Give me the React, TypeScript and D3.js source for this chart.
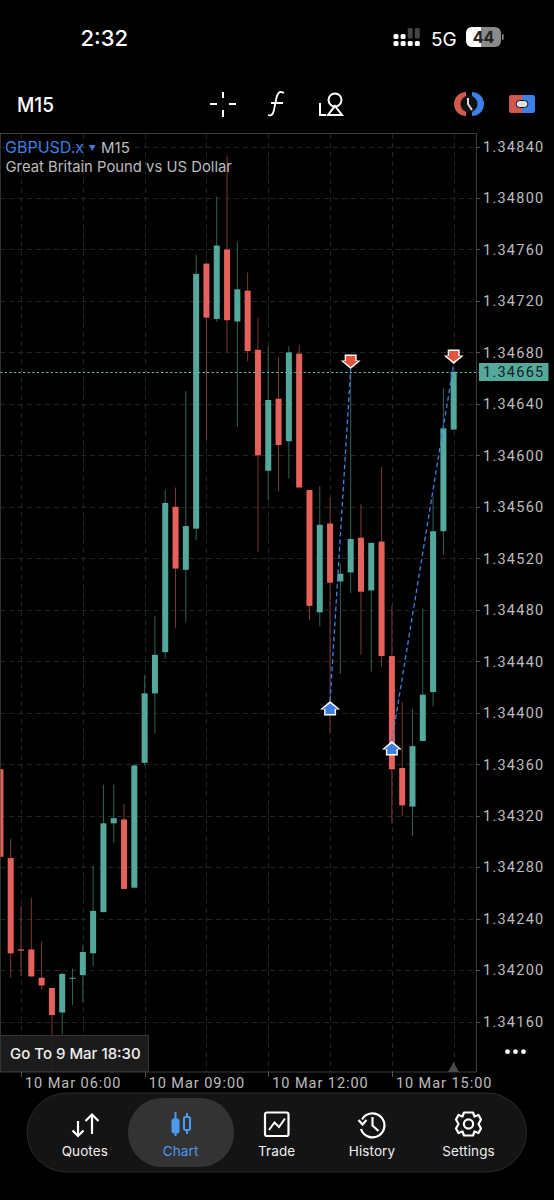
import React from "react";
import * as d3 from "d3";

// ---- data ----
const opens = [1.34356,1.34287,1.34216,1.34216,1.34194,1.34186,1.34167,1.34194,1.34196,1.34213,1.34245,1.34314,1.34317,1.34264,1.34361,1.34415,1.34447,1.34560,1.34511,1.34543,1.34749,1.34706,1.34760,1.34704,1.34728,1.34682,1.34588,1.34644,1.34611,1.34679,1.34573,1.34478,1.34547,1.34502,1.34509,1.34536,1.34495,1.34533,1.34444,1.34357,1.34327,1.34378,1.34416,1.34541,1.34620];
const highs = [1.34356,1.34302,1.34250,1.34256,1.34222,1.34186,1.34198,1.34201,1.34219,1.34281,1.34344,1.34344,1.34329,1.34360,1.34429,1.34475,1.34573,1.34575,1.34650,1.34756,1.34749,1.34801,1.34833,1.34766,1.34742,1.34707,1.34685,1.34676,1.34685,1.34686,1.34573,1.34576,1.34567,1.34516,1.34665,1.34562,1.34532,1.34591,1.34483,1.34408,1.34403,1.34481,1.34568,1.34652,1.34665];
const lows = [1.34288,1.34194,1.34195,1.34195,1.34185,1.34122,1.34150,1.34173,1.34175,1.34203,1.34245,1.34299,1.34263,1.34264,1.34359,1.34384,1.34442,1.34466,1.34470,1.34534,1.34612,1.34704,1.34680,1.34622,1.34673,1.34525,1.34565,1.34572,1.34582,1.34575,1.34472,1.34467,1.34384,1.34430,1.34493,1.34445,1.34432,1.34436,1.34314,1.34320,1.34304,1.34378,1.34405,1.34523,1.34620];
const closes = [1.34288,1.34213,1.34215,1.34195,1.34188,1.34165,1.34197,1.34194,1.34214,1.34246,1.34314,1.34318,1.34263,1.34359,1.34415,1.34445,1.34563,1.34512,1.34545,1.34741,1.34707,1.34763,1.34705,1.34729,1.34681,1.34600,1.34643,1.34608,1.34680,1.34575,1.34483,1.34546,1.34501,1.34508,1.34535,1.34494,1.34532,1.34444,1.34356,1.34328,1.34374,1.34414,1.34541,1.34621,1.34665];
const priceTicks = [1.3484,1.348,1.3476,1.3472,1.3468,1.3464,1.346,1.3456,1.3452,1.3448,1.3444,1.344,1.3436,1.3432,1.3428,1.3424,1.342,1.3416];
const verticalGrid = [2,8,14,20,26,32,38,44];
const timeTicks = [2,14,26,38];
const timeLabels = ["10 Mar 06:00","10 Mar 09:00","10 Mar 12:00","10 Mar 15:00"];
const lastPrice = 1.34665;
const tradeEntryIdx = [32,38];
const tradeEntryPx = [1.34409,1.34378];
const tradeExitIdx = [34,44];
const tradeExitPx = [1.34667,1.34671];
const tabs = ["Quotes","Chart","Trade","History","Settings"];

const W = 554, H = 1200;
const x = d3.scaleLinear().domain([0,44]).range([0.4,453.7]);
const y = d3.scaleLinear().domain([1.3484,1.3416]).range([146.5,1021.5]);
const TEAL = "#55a99c", RED = "#e5615a", TEAL_W = "#2f625b", RED_W = "#7d3a37", BLUE = "#3d80ec";
const GRID = "#242424", BORDER = "#3c3c3c";
const SANS = "Inter, Roboto, 'Liberation Sans', sans-serif";
const tabX = [84.8,180.6,276.7,372,468.5];

const clipId = "plot";

function UpArrow({cx,tip}:{cx:number,tip:number}) {
  const d = `M${cx},${tip} L${cx+10},${tip+8.5} L${cx+6},${tip+8.5} L${cx+6},${tip+14.5} L${cx-6},${tip+14.5} L${cx-6},${tip+8.5} L${cx-10},${tip+8.5} Z`;
  return <g>
    <path d={d} fill="#fff"/>
    <path d={`M${cx},${tip+2.2} L${cx+7.4},${tip+8} L${cx+4.6},${tip+8} L${cx+4.6},${tip+13} L${cx-4.6},${tip+13} L${cx-4.6},${tip+8} L${cx-7.4},${tip+8} Z`} fill={BLUE}/>
  </g>;
}
function DownArrow({cx,tip}:{cx:number,tip:number}) {
  const d = `M${cx},${tip} L${cx+10},${tip-8.5} L${cx+6},${tip-8.5} L${cx+6},${tip-14.5} L${cx-6},${tip-14.5} L${cx-6},${tip-8.5} L${cx-10},${tip-8.5} Z`;
  return <g>
    <path d={d} fill="#fff"/>
    <path d={`M${cx},${tip-2.2} L${cx+7.4},${tip-8} L${cx+4.6},${tip-8} L${cx+4.6},${tip-13} L${cx-4.6},${tip-13} L${cx-4.6},${tip-8} L${cx-7.4},${tip-8} Z`} fill="#e5533f"/>
  </g>;
}

export default function App() {
  return (
    <svg width={W} height={H} viewBox={`0 0 ${W} ${H}`}
      style={{position:"fixed",left:0,top:0,display:"block",background:"#000"}} fontFamily={SANS}>
      <rect width={W} height={H} fill="#000"/>
      <defs><clipPath id={clipId}><rect x={0} y={134} width={476} height={938}/></clipPath></defs>

      {/* status bar */}
      <text x={80.5} y={46} fill="#fff" fontSize={22} fontWeight={500}>2:32</text>
      {[0,1,2,3].map(c=>[0,1].map(r=>(
        <rect key={c+"-"+r} x={393.5+c*7.1} y={(r===0?(c>1?28:34):41)} width={5} height={(r===0&&c>1)?10.5:5} rx={1.5}
          fill={(r===0&&c>1)?"#444":"#fff"}/>
      )))}
      <text x={431} y={45.5} fill="#fff" fontSize={19}>5G</text>
      <rect x={466} y={27} width={35} height={20} rx={6} fill="#8a8a8a"/>
      <path d="M472,27 H481 V47 H472 a6,6 0 0 1 -6,-6 V33 a6,6 0 0 1 6,-6 Z" fill="#fff"/>
      <rect x={502} y={34} width={1.6} height={6} rx={0.8} fill="#8a8a8a"/>
      <text x={483.5} y={43} fill="#222" fontSize={16} fontWeight={700} textAnchor="middle">44</text>

      {/* toolbar */}
      <text x={17} y={111.5} fill="#fff" fontSize={20} fontWeight={500} textLength={37} lengthAdjust="spacingAndGlyphs">M15</text>
      <g stroke="#fff" strokeWidth={2} fill="none">
        <path d="M210,104 H217 M229,104 H236 M223,92 V98 M223,110 V117"/>
        <path d="M284,93 C279,90 277,94 276,100 L274,110 C273,115 271,116 268,115 M271,103 H283" strokeWidth={1.8}/>
        <circle cx={335} cy={100} r={6.5}/>
        <path d="M335,106 L342,115 H328 Z"/>
        <path d="M320,103 V115 H326"/>
      </g>
      <g>
        <path d="M466,92 A12,12 0 0 0 466,116 Z" fill="#d0594d"/>
        <path d="M472,92 A12,12 0 0 1 472,116 Z" fill="#3d80ec"/>
        <circle cx={469} cy={104} r={8.5} fill="#111"/>
        <path d="M468,98 V104 L472,110" stroke="#ddd" strokeWidth={2} fill="none"/>
      </g>
      <g>
        <path d="M511,95 H522 V113 H511 a2,2 0 0 1 -2,-2 V97 a2,2 0 0 1 2,-2 Z" fill="#d0594d"/>
        <path d="M522,95 H533 a2,2 0 0 1 2,2 V111 a2,2 0 0 1 -2,2 H522 Z" fill="#3d80ec"/>
        <rect x={516} y={100.5} width={12} height={7} rx={3.5} fill="#ddd" stroke="#111" strokeWidth={1}/>
      </g>

      {/* grid */}
      <g stroke={GRID} strokeWidth={1} strokeDasharray="5 4" fill="none">
        {priceTicks.map(t=><line key={t} x1={0} x2={476} y1={Math.round(y(t))+0.5} y2={Math.round(y(t))+0.5}/>)}
        {verticalGrid.map(i=><line key={i} x1={Math.round(x(i))+0.5} x2={Math.round(x(i))+0.5} y1={134} y2={1072}/>)}
      </g>
      <line x1={0.5} x2={0.5} y1={134} y2={1072} stroke="#232323"/>

      {/* candles */}
      <g clipPath={`url(#${clipId})`}>
        {opens.map((o,i)=>{
          const c = closes[i], up = c>=o, cx = x(i);
          const top = y(Math.max(o,c)), bot = y(Math.min(o,c));
          return <g key={i}>
            <line x1={cx} x2={cx} y1={y(highs[i])} y2={Math.min(y(lows[i]),1072)} stroke={up?TEAL_W:RED_W} strokeWidth={1}/>
            <rect x={cx-3} y={top} width={6} height={Math.max(bot-top,1)} fill={up?TEAL:RED}/>
          </g>;
        })}
      </g>

      {/* last price line */}
      <line x1={0} x2={479} y1={Math.round(y(lastPrice))+0.5} y2={Math.round(y(lastPrice))+0.5} stroke="#5fb8aa" strokeWidth={1.2} strokeDasharray="2.4 2.2"/>

      {/* trades */}
      {tradeEntryIdx.map((e,k)=>(
        <line key={k} x1={x(e)} y1={y(tradeEntryPx[k])} x2={x(tradeExitIdx[k])} y2={y(tradeExitPx[k])}
          stroke={BLUE} strokeWidth={1.3} strokeDasharray="4.5 3"/>
      ))}
      {tradeEntryIdx.map((e,k)=><UpArrow key={k} cx={x(e)} tip={y(tradeEntryPx[k])}/>)}
      {tradeExitIdx.map((e,k)=><DownArrow key={k} cx={x(e)} tip={y(tradeExitPx[k])}/>)}

      {/* frame */}
      <rect x={0} y={133.5} width={476.5} height={938.5} fill="none" stroke={BORDER}/>

      {/* y axis */}
      {priceTicks.map(t=>(
        <g key={t}>
          <line x1={476} x2={480} y1={Math.round(y(t))+0.5} y2={Math.round(y(t))+0.5} stroke="#555"/>
          <text x={483} y={y(t)+5.4} fill="#bdbdbd" fontSize={14.5} letterSpacing={1.25} fontFamily="Roboto, sans-serif">{t.toFixed(5)}</text>
        </g>
      ))}
      <rect x={479} y={363} width={69.5} height={18} fill={TEAL}/>
      <text x={483} y={y(lastPrice)+5.4} fill="#10231f" fontSize={14.5} letterSpacing={1.25} fontFamily="Roboto, sans-serif">{lastPrice.toFixed(5)}</text>

      {/* x axis */}
      {timeTicks.map((t,k)=>(
        <g key={t}>
          <line x1={Math.round(x(t))+0.5} x2={Math.round(x(t))+0.5} y1={1072} y2={1077} stroke="#555"/>
          <text x={x(t)+4} y={1088} fill="#bdbdbd" fontSize={14.5} letterSpacing={0.95} fontFamily="Roboto, sans-serif">{timeLabels[k]}</text>
        </g>
      ))}

      {/* titles */}
      <text x={5} y={152.5} fill="#3d7fe0" fontSize={16}>GBPUSD.x</text>
      <path d="M89,145 H95.5 L92.2,151 Z" fill="#3d7fe0"/>
      <text x={101} y={152.5} fill="#bcbcbc" fontSize={15}>M15</text>
      <text x={5.5} y={171.5} fill="#bcbcbc" fontSize={14.85}>Great Britain Pound vs US Dollar</text>

      {/* go to */}
      <rect x={0.5} y={1035.5} width={148} height={36} fill="#1e1e1e" fillOpacity={0.9} stroke="#333"/>
      <text x={10} y={1059} fill="#f0f0f0" fontSize={15} fontWeight={500}>Go To 9 Mar 18:30</text>

      {/* corner marks */}
      <path d="M453.5,1062 L459,1072 H448 Z" fill="#4a4a4a"/>
      {[507.5,515.5,523.5].map(d=><circle key={d} cx={d} cy={1051.7} r={2.4} fill="#fff"/>)}

      {/* tab bar */}
      <rect x={27} y={1093} width={499.5} height={79} rx={39.5} fill="#141414" stroke="#2a2a2a"/>
      <rect x={128} y={1098} width={106} height={69} rx={34} fill="#333"/>
      {tabs.map((t,k)=>(
        <text key={t} x={tabX[k]} y={1156} textAnchor="middle" fontSize={13.5} letterSpacing={0.1} fontWeight={400}
          fill={k===1?"#4a9bf0":"#f0f0f0"}>{t}</text>
      ))}
      <g stroke="#fff" strokeWidth={2.2} fill="none">
        <path d="M78,1121 V1136 M72.5,1130.5 L78,1136 L83.5,1130.5"/>
        <path d="M92,1134 V1115 M85.5,1121 L92,1114.5 L98.5,1121"/>
      </g>
      <g fill="#4a9bf0" stroke="#4a9bf0">
        <line x1={175.5} x2={175.5} y1={1112} y2={1136} strokeWidth={2}/>
        <rect x={172} y={1119} width={7} height={14} rx={1.5}/>
        <line x1={187} x2={187} y1={1113} y2={1134} strokeWidth={2}/>
        <rect x={184} y={1117} width={6} height={13} rx={1.5} fill="#333" strokeWidth={2}/>
      </g>
      <g fill="none" stroke="#fff">
        <rect x={265} y={1112.5} width={23.5} height={23.5} rx={2} strokeWidth={2.2}/>
        <path d="M269,1130 L274.5,1122.5 L279,1127 L285,1118.5" strokeWidth={2}/>
      </g>
      <g fill="none" stroke="#fff" strokeWidth={2.2}>
        <path d="M362,1119.5 A12,12 0 1 1 361,1129"/>
        <path d="M358.5,1120 L362.5,1124.5 L366.5,1120" />
        <path d="M372.5,1117 V1125.5 L378.5,1131"/>
      </g>
      <g fill="none" stroke="#fff" strokeWidth={2.2}>
        <path d="M464,1112.5 H473 L474.5,1116.5 L478.5,1115 L481,1119.5 L478.5,1124 L481,1128.5 L478.5,1133 L474.5,1131.5 L473,1135.5 H464 L462.5,1131.5 L458.5,1133 L456,1128.5 L458.5,1124 L456,1119.5 L458.5,1115 L462.5,1116.5 Z" strokeLinejoin="round"/>
        <circle cx={468.5} cy={1124} r={4.6}/>
      </g>
    </svg>
  );
}
